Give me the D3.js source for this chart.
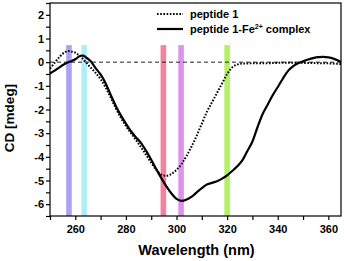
<!DOCTYPE html>
<html>
<head>
<meta charset="utf-8">
<script src="https://cdn.jsdelivr.net/npm/d3@7"></script>
<style>
  body { margin: 0; background: #fff; }
  svg text { font-family: Arial, "Liberation Sans", sans-serif; font-weight: bold; }
</style>
</head>
<body>
<svg width="344" height="261"></svg>
<script>
// wavelengths (nm) and CD values (mdeg)
const wlPeptide = [250,252,254,256,257,258,260,262,264,266,268,270,272,274,276,278,280,282,284,286,288,290,292,294,296,298,300,302,304,306,308,310,312,314,316,318,320,322,324,326,330,335,340,345,350,355,360,365];
const cdPeptide = [-0.27,0.0,0.25,0.43,0.47,0.46,0.4,0.24,0.02,-0.22,-0.45,-0.72,-1.08,-1.5,-1.95,-2.35,-2.7,-3.0,-3.3,-3.6,-3.92,-4.25,-4.55,-4.75,-4.8,-4.72,-4.55,-4.3,-3.95,-3.55,-3.1,-2.6,-2.1,-1.7,-1.3,-0.9,-0.5,-0.22,-0.1,-0.06,-0.05,-0.05,-0.03,-0.02,-0.03,-0.04,-0.05,-0.08];

const wlComplex = [250,252,254,256,258,260,262,263,264,266,268,270,272,274,276,278,280,282,284,286,288,290,292,294,296,298,300,302,304,306,308,310,312,314,316,318,320,322,324,326,328,330,332,334,336,338,340,342,344,346,348,350,352,354,356,358,360,362,364,365];
const cdComplex = [-0.48,-0.35,-0.2,-0.07,0.03,0.12,0.27,0.28,0.22,0.05,-0.25,-0.52,-0.9,-1.38,-1.85,-2.25,-2.6,-2.92,-3.18,-3.42,-3.75,-4.12,-4.52,-4.9,-5.25,-5.55,-5.78,-5.86,-5.8,-5.68,-5.5,-5.32,-5.17,-5.1,-5.03,-4.92,-4.78,-4.6,-4.4,-4.15,-3.75,-3.35,-2.75,-2.2,-1.8,-1.4,-1.05,-0.7,-0.38,-0.18,-0.05,0.04,0.11,0.17,0.21,0.22,0.2,0.15,0.06,0.01];

// highlighted wavelengths
const bandWl = [257.5, 263.5, 294.8, 301.8, 320];
const bandColors = ["#a9a2f2", "#b2ecf8", "#f3819f", "#dd93ec", "#b3f062"];
const bandTop = 0.72;

const xTicks = [260, 280, 300, 320, 340, 360];
const yTicks = [-6, -5, -4, -3, -2, -1, 0, 1, 2];

const svg = d3.select("svg");
const plotL = 50, plotR = 341, plotT = 3, plotB = 216;

const x = d3.scaleLinear().domain([250, 365]).range([plotL, plotR]);
const y = d3.scaleLinear().domain([-6.5, 2.5]).range([plotB, plotT]);

// colour bands
svg.selectAll("rect.band")
  .data(bandWl)
  .enter()
  .append("rect")
  .attr("class", "band")
  .attr("x", d => x(d - 1.1))
  .attr("width", d => x(d + 1.1) - x(d - 1.1))
  .attr("y", y(bandTop))
  .attr("height", y(-6.5) - y(bandTop))
  .attr("fill", (d, i) => bandColors[i]);

// zero line
svg.append("line")
  .attr("x1", plotL).attr("x2", plotR)
  .attr("y1", y(0)).attr("y2", y(0))
  .attr("stroke", "#222")
  .attr("stroke-width", 1)
  .attr("stroke-dasharray", "4,3");

const line = d3.line().curve(d3.curveMonotoneX);

svg.append("path")
  .datum(wlPeptide.map((w, i) => [x(w), y(cdPeptide[i])]))
  .attr("d", line)
  .attr("fill", "none")
  .attr("stroke", "#000")
  .attr("stroke-width", 2)
  .attr("stroke-dasharray", "1.6,1.6");

svg.append("path")
  .datum(wlComplex.map((w, i) => [x(w), y(cdComplex[i])]))
  .attr("d", line)
  .attr("fill", "none")
  .attr("stroke", "#000")
  .attr("stroke-width", 2.2);

// frame
svg.append("rect")
  .attr("x", plotL).attr("y", plotT)
  .attr("width", plotR - plotL).attr("height", plotB - plotT)
  .attr("fill", "none")
  .attr("stroke", "#000")
  .attr("stroke-width", 1.2);

// axes
const xAxis = svg.append("g")
  .attr("transform", `translate(0,${plotB})`)
  .call(d3.axisBottom(x).tickValues(d3.range(250, 366, 10)).tickSize(4).tickFormat(d => xTicks.includes(d) ? d : ""));
const yAxis = svg.append("g")
  .attr("transform", `translate(${plotL},0)`)
  .call(d3.axisLeft(y).tickValues(d3.range(-6.5, 2.6, 0.5)).tickSize(4).tickFormat(d => yTicks.includes(d) ? d : ""));

[xAxis, yAxis].forEach(g => {
  g.select(".domain").remove();
  g.selectAll("line").attr("stroke", "#000").attr("stroke-width", 1.2);
  g.selectAll("text").attr("fill", "#000").style("font-size", "11px").style("font-weight", "bold");
});
xAxis.selectAll("text").attr("dy", "0.95em");
yAxis.selectAll("text").attr("x", -6);

// axis titles
svg.append("text")
  .attr("x", (plotL + plotR) / 2 + 1)
  .attr("y", 255)
  .attr("text-anchor", "middle")
  .style("font-size", "14.5px")
  .text("Wavelength (nm)");

svg.append("text")
  .attr("transform", "translate(14,118) rotate(-90)")
  .attr("text-anchor", "middle")
  .style("font-size", "13.5px")
  .text("CD [mdeg]");

// legend
const legend = svg.append("g");
legend.append("line")
  .attr("x1", 157).attr("x2", 183).attr("y1", 14).attr("y2", 14)
  .attr("stroke", "#000").attr("stroke-width", 2).attr("stroke-dasharray", "1.6,1.6");
legend.append("line")
  .attr("x1", 157).attr("x2", 183).attr("y1", 29).attr("y2", 29)
  .attr("stroke", "#000").attr("stroke-width", 2.2);
legend.append("text")
  .attr("x", 190).attr("y", 18)
  .style("font-size", "11px")
  .text("peptide 1");
const t2 = legend.append("text")
  .attr("x", 190).attr("y", 33)
  .style("font-size", "11px");
t2.append("tspan").text("peptide 1-Fe");
t2.append("tspan").attr("dy", -4).style("font-size", "7px").text("2+");
t2.append("tspan").attr("dy", 4).text(" complex");
</script>
</body>
</html>
